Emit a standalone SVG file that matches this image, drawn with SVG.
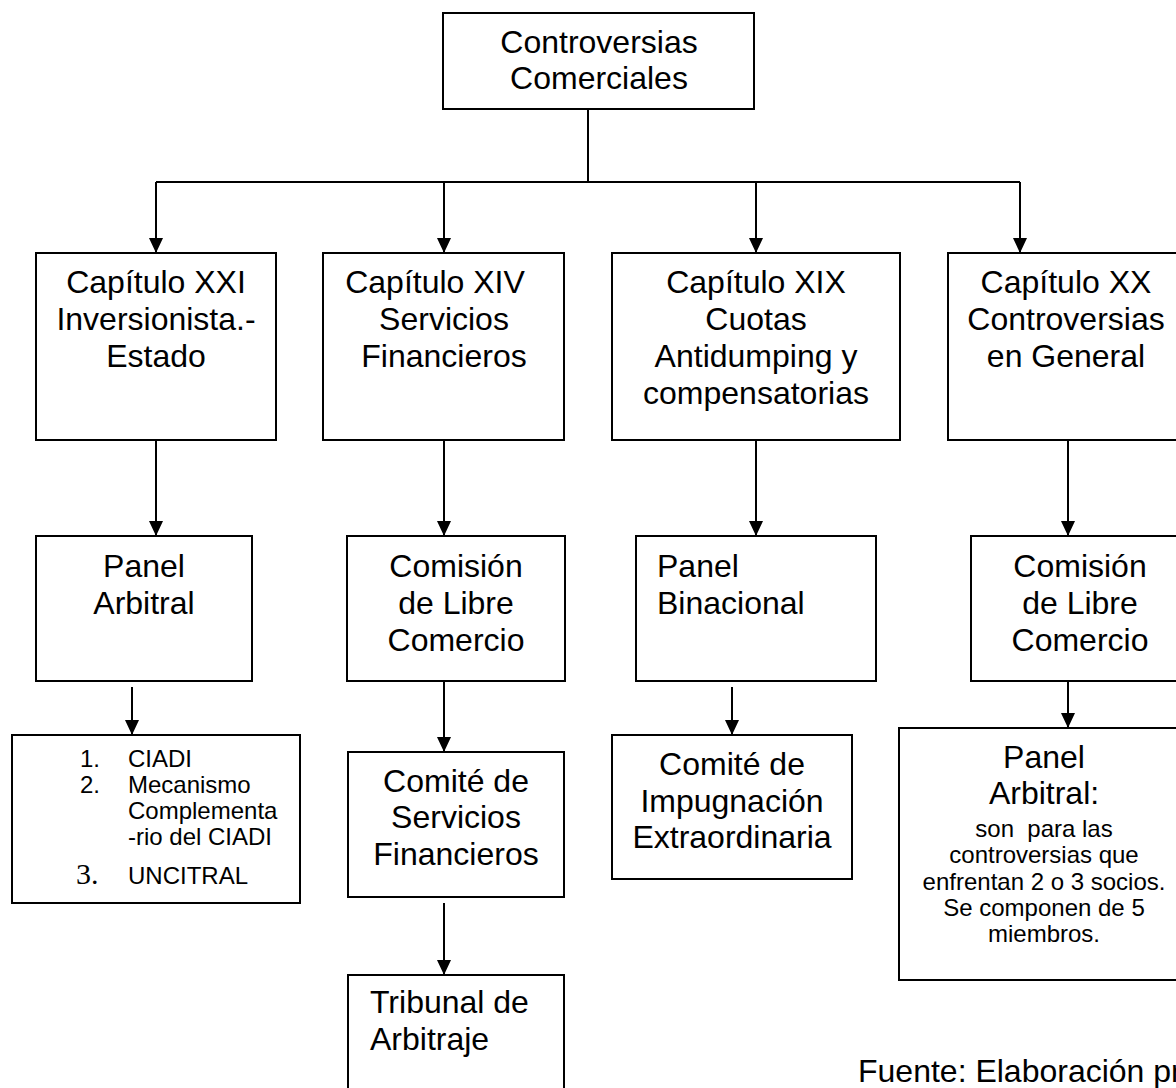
<svg xmlns="http://www.w3.org/2000/svg" width="1176" height="1088" viewBox="0 0 1176 1088">
<style>
rect.box{fill:#fff;stroke:#000;stroke-width:2}
.t{font-family:"Liberation Sans",Arial,sans-serif;font-size:32px;fill:#000}
.c{text-anchor:middle}
.s{font-family:"Liberation Sans",Arial,sans-serif;font-size:24px;fill:#000}
.n{font-family:"Liberation Serif","Times New Roman",serif;font-size:30px;fill:#000}
.ln{fill:none;stroke:#000;stroke-width:2}
</style>
<defs>
<marker id="ah" viewBox="0 0 15 14" refX="15" refY="7" markerWidth="15" markerHeight="14" markerUnits="userSpaceOnUse" orient="auto">
<path d="M0,0 L15,7 L0,14 z" fill="#000"/>
</marker>
</defs>
<rect width="1176" height="1088" fill="#fff"/>
<g id="connectors">
<path class="ln" d="M588,109 V182 M156,182 H1020"/>
<path class="ln" d="M156,182 V253" marker-end="url(#ah)"/>
<path class="ln" d="M444,182 V253" marker-end="url(#ah)"/>
<path class="ln" d="M756,182 V253" marker-end="url(#ah)"/>
<path class="ln" d="M1020,182 V253" marker-end="url(#ah)"/>
<path class="ln" d="M156,440 V536" marker-end="url(#ah)"/>
<path class="ln" d="M444,440 V536" marker-end="url(#ah)"/>
<path class="ln" d="M756,440 V536" marker-end="url(#ah)"/>
<path class="ln" d="M1068,440 V536" marker-end="url(#ah)"/>
<path class="ln" d="M132,687 V735" marker-end="url(#ah)"/>
<path class="ln" d="M444,681 V752" marker-end="url(#ah)"/>
<path class="ln" d="M732,687 V735" marker-end="url(#ah)"/>
<path class="ln" d="M1068,681 V728" marker-end="url(#ah)"/>
<path class="ln" d="M444,903 V975" marker-end="url(#ah)"/>
</g>
<g id="root">
<rect class="box" x="443" y="13" width="311" height="96"/>
<text class="t c" x="599" y="53">Controversias</text>
<text class="t c" x="599" y="89">Comerciales</text>
</g>
<g id="cap21">
<rect class="box" x="36" y="253" width="240" height="187"/>
<text class="t c" x="156" y="293">Capítulo XXI</text>
<text class="t c" x="156" y="330">Inversionista.-</text>
<text class="t c" x="156" y="367">Estado</text>
</g>
<g id="cap14">
<rect class="box" x="323" y="253" width="241" height="187"/>
<text class="t c" x="435" y="293">Capítulo XIV</text>
<text class="t c" x="444" y="330">Servicios</text>
<text class="t c" x="444" y="367">Financieros</text>
</g>
<g id="cap19">
<rect class="box" x="612" y="253" width="288" height="187"/>
<text class="t c" x="756" y="293">Capítulo XIX</text>
<text class="t c" x="756" y="330">Cuotas</text>
<text class="t c" x="756" y="367">Antidumping y</text>
<text class="t c" x="756" y="404">compensatorias</text>
</g>
<g id="cap20">
<rect class="box" x="948" y="253" width="240" height="187"/>
<text class="t c" x="1066" y="293">Capítulo XX</text>
<text class="t c" x="1066" y="330">Controversias</text>
<text class="t c" x="1066" y="367">en General</text>
</g>
<g id="panelArbitral1">
<rect class="box" x="36" y="536" width="216" height="145"/>
<text class="t c" x="144" y="577">Panel</text>
<text class="t c" x="144" y="614">Arbitral</text>
</g>
<g id="comision1">
<rect class="box" x="347" y="536" width="218" height="145"/>
<text class="t c" x="456" y="577">Comisión</text>
<text class="t c" x="456" y="614">de Libre</text>
<text class="t c" x="456" y="651">Comercio</text>
</g>
<g id="panelBinacional">
<rect class="box" x="636" y="536" width="240" height="145"/>
<text class="t" x="657" y="577">Panel</text>
<text class="t" x="657" y="614">Binacional</text>
</g>
<g id="comision2">
<rect class="box" x="971" y="536" width="218" height="145"/>
<text class="t c" x="1080" y="577">Comisión</text>
<text class="t c" x="1080" y="614">de Libre</text>
<text class="t c" x="1080" y="651">Comercio</text>
</g>
<g id="listaCiadi">
<rect class="box" x="12" y="735" width="288" height="168"/>
<text class="s" x="80" y="767">1.</text><text class="s" x="128" y="767">CIADI</text>
<text class="s" x="80" y="793">2.</text><text class="s" x="128" y="793">Mecanismo</text>
<text class="s" x="128" y="819">Complementa</text>
<text class="s" x="128" y="845">-rio del CIADI</text>
<text class="n" x="76" y="884">3.</text><text class="s" x="128" y="884">UNCITRAL</text>
</g>
<g id="comiteServicios">
<rect class="box" x="348" y="752" width="216" height="145"/>
<text class="t c" x="456" y="792">Comité de</text>
<text class="t c" x="456" y="828">Servicios</text>
<text class="t c" x="456" y="865">Financieros</text>
</g>
<g id="comiteImpugnacion">
<rect class="box" x="612" y="735" width="240" height="144"/>
<text class="t c" x="732" y="775">Comité de</text>
<text class="t c" x="732" y="812">Impugnación</text>
<text class="t c" x="732" y="848">Extraordinaria</text>
</g>
<g id="panelArbitral2">
<rect class="box" x="899" y="728" width="290" height="252"/>
<text class="t c" x="1044" y="768">Panel</text>
<text class="t c" x="1044" y="804">Arbitral:</text>
<text class="s c" x="1044" y="837" xml:space="preserve">son  para las</text>
<text class="s c" x="1044" y="863">controversias que</text>
<text class="s c" x="1044" y="890">enfrentan 2 o 3 socios.</text>
<text class="s c" x="1044" y="916">Se componen de 5</text>
<text class="s c" x="1044" y="942">miembros.</text>
</g>
<g id="tribunal">
<rect class="box" x="348" y="975" width="216" height="130"/>
<text class="t" x="370" y="1013">Tribunal de</text>
<text class="t" x="370" y="1050">Arbitraje</text>
</g>
<text class="t" x="858" y="1082">Fuente: Elaboración pr</text>
</svg>
